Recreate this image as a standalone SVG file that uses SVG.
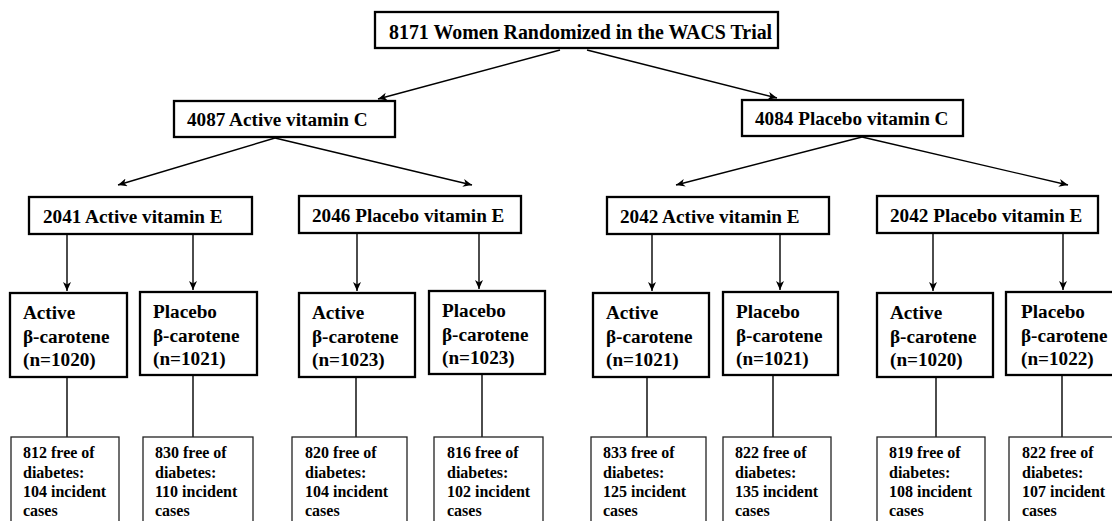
<svg xmlns="http://www.w3.org/2000/svg" width="1112" height="521" viewBox="0 0 1112 521">
<style>
.bx{fill:#fff;stroke:#000;stroke-width:2.3}
.bb{fill:#fff;stroke:#222;stroke-width:1.3}
text{font-family:'Liberation Serif','DejaVu Serif','Times New Roman',serif;font-weight:bold;fill:#000}
.h{font-size:19.9px}
.m{font-size:19.2px}
.s{font-size:16px}
.c{stroke:#000;stroke-width:1.4;fill:none}
.a{marker-end:url(#ar)}
</style>
<defs>
<marker id="ar" markerUnits="userSpaceOnUse" markerWidth="10" markerHeight="9" refX="9" refY="4" orient="auto">
<path d="M0,0 L9,4 L0,8 L2.5,4 Z" fill="#000"/>
</marker>
</defs>
<rect width="1112" height="521" fill="#fff"/>
<g id="connectors">
<line class="c a" x1="560" y1="50" x2="378" y2="99"/>
<line class="c a" x1="587" y1="50" x2="777" y2="98"/>
<line class="c a" x1="275" y1="138" x2="118" y2="185"/>
<line class="c a" x1="275" y1="138" x2="472" y2="185"/>
<line class="c a" x1="862" y1="137" x2="676" y2="185"/>
<line class="c a" x1="862" y1="137" x2="1068" y2="185"/>
<line class="c a" x1="67" y1="235" x2="67" y2="291"/>
<line class="c a" x1="193" y1="235" x2="193" y2="290"/>
<line class="c a" x1="357" y1="234" x2="357" y2="291"/>
<line class="c a" x1="479" y1="234" x2="479" y2="289"/>
<line class="c a" x1="652" y1="235" x2="652" y2="291"/>
<line class="c a" x1="780" y1="235" x2="780" y2="290"/>
<line class="c a" x1="933" y1="234" x2="933" y2="291"/>
<line class="c a" x1="1063" y1="234" x2="1063" y2="290"/>
<line class="c" x1="67" y1="377" x2="67" y2="437"/>
<line class="c" x1="193" y1="375" x2="193" y2="437"/>
<line class="c" x1="356" y1="377" x2="356" y2="437"/>
<line class="c" x1="482" y1="374" x2="482" y2="437"/>
<line class="c" x1="647" y1="377" x2="647" y2="437"/>
<line class="c" x1="773" y1="375" x2="773" y2="437"/>
<line class="c" x1="936" y1="377" x2="936" y2="437"/>
<line class="c" x1="1062" y1="375" x2="1062" y2="437"/>
</g>
<g font-family="Liberation Serif, DejaVu Serif, serif" font-weight="bold">
<g id="n-root"><rect class="bx" x="375" y="12" width="403" height="36"/><text class="h" x="389" y="38.8">8171 Women Randomized in the WACS Trial</text></g>
<g id="n-c-active"><rect class="bx" x="174" y="101" width="221" height="36"/><text class="m" x="187" y="126.3">4087 Active vitamin C</text></g>
<g id="n-c-placebo"><rect class="bx" x="742" y="100" width="221" height="36"/><text class="m" x="755" y="125.3">4084 Placebo vitamin C</text></g>
<g id="n-e1"><rect class="bx" x="29" y="197" width="223" height="37"/><text class="m" x="43" y="222.8">2041 Active vitamin E</text></g>
<g id="n-e2"><rect class="bx" x="299" y="196" width="222" height="37"/><text class="m" x="312" y="221.8">2046 Placebo vitamin E</text></g>
<g id="n-e3"><rect class="bx" x="607" y="197" width="222" height="37"/><text class="m" x="620" y="222.8">2042 Active vitamin E</text></g>
<g id="n-e4"><rect class="bx" x="877" y="196" width="221" height="37"/><text class="m" x="890" y="221.8">2042 Placebo vitamin E</text></g>
<g id="n-b1"><rect class="bx" x="10" y="293" width="117" height="84"/><text class="m" x="23" y="319">Active<tspan x="23" y="342.5">β-carotene</tspan><tspan x="23" y="366">(n=1020)</tspan></text></g>
<g id="n-b2"><rect class="bx" x="140" y="292" width="117" height="83"/><text class="m" x="153" y="318">Placebo<tspan x="153" y="341.5">β-carotene</tspan><tspan x="153" y="365">(n=1021)</tspan></text></g>
<g id="n-b3"><rect class="bx" x="299" y="293" width="116" height="84"/><text class="m" x="312" y="319">Active<tspan x="312" y="342.5">β-carotene</tspan><tspan x="312" y="366">(n=1023)</tspan></text></g>
<g id="n-b4"><rect class="bx" x="429" y="291" width="116" height="83"/><text class="m" x="442" y="317">Placebo<tspan x="442" y="340.5">β-carotene</tspan><tspan x="442" y="364">(n=1023)</tspan></text></g>
<g id="n-b5"><rect class="bx" x="593" y="293" width="116" height="84"/><text class="m" x="606" y="319">Active<tspan x="606" y="342.5">β-carotene</tspan><tspan x="606" y="366">(n=1021)</tspan></text></g>
<g id="n-b6"><rect class="bx" x="723" y="292" width="115" height="83"/><text class="m" x="736" y="318">Placebo<tspan x="736" y="341.5">β-carotene</tspan><tspan x="736" y="365">(n=1021)</tspan></text></g>
<g id="n-b7"><rect class="bx" x="877" y="293" width="116" height="84"/><text class="m" x="890" y="319">Active<tspan x="890" y="342.5">β-carotene</tspan><tspan x="890" y="366">(n=1020)</tspan></text></g>
<g id="n-b8"><rect class="bx" x="1006" y="292" width="120" height="83"/><text class="m" x="1021" y="318">Placebo<tspan x="1021" y="341.5">β-carotene</tspan><tspan x="1021" y="365">(n=1022)</tspan></text></g>
<g id="n-d1"><rect class="bb" x="11" y="437" width="108" height="100"/><text class="s" x="23" y="458">812 free of<tspan x="23" y="477.5">diabetes:</tspan><tspan x="23" y="497">104 incident</tspan><tspan x="23" y="516">cases</tspan></text></g>
<g id="n-d2"><rect class="bb" x="143" y="437" width="110" height="100"/><text class="s" x="155" y="458">830 free of<tspan x="155" y="477.5">diabetes:</tspan><tspan x="155" y="497">110 incident</tspan><tspan x="155" y="516">cases</tspan></text></g>
<g id="n-d3"><rect class="bb" x="292" y="437" width="115" height="100"/><text class="s" x="305" y="458">820 free of<tspan x="305" y="477.5">diabetes:</tspan><tspan x="305" y="497">104 incident</tspan><tspan x="305" y="516">cases</tspan></text></g>
<g id="n-d4"><rect class="bb" x="434" y="437" width="109" height="100"/><text class="s" x="447" y="458">816 free of<tspan x="447" y="477.5">diabetes:</tspan><tspan x="447" y="497">102 incident</tspan><tspan x="447" y="516">cases</tspan></text></g>
<g id="n-d5"><rect class="bb" x="591" y="437" width="115" height="100"/><text class="s" x="603" y="458">833 free of<tspan x="603" y="477.5">diabetes:</tspan><tspan x="603" y="497">125 incident</tspan><tspan x="603" y="516">cases</tspan></text></g>
<g id="n-d6"><rect class="bb" x="723" y="437" width="108" height="100"/><text class="s" x="735" y="458">822 free of<tspan x="735" y="477.5">diabetes:</tspan><tspan x="735" y="497">135 incident</tspan><tspan x="735" y="516">cases</tspan></text></g>
<g id="n-d7"><rect class="bb" x="877" y="437" width="108" height="100"/><text class="s" x="889" y="458">819 free of<tspan x="889" y="477.5">diabetes:</tspan><tspan x="889" y="497">108 incident</tspan><tspan x="889" y="516">cases</tspan></text></g>
<g id="n-d8"><rect class="bb" x="1009" y="437" width="115" height="100"/><text class="s" x="1022" y="458">822 free of<tspan x="1022" y="477.5">diabetes:</tspan><tspan x="1022" y="497">107 incident</tspan><tspan x="1022" y="516">cases</tspan></text></g>
</g>
</svg>
